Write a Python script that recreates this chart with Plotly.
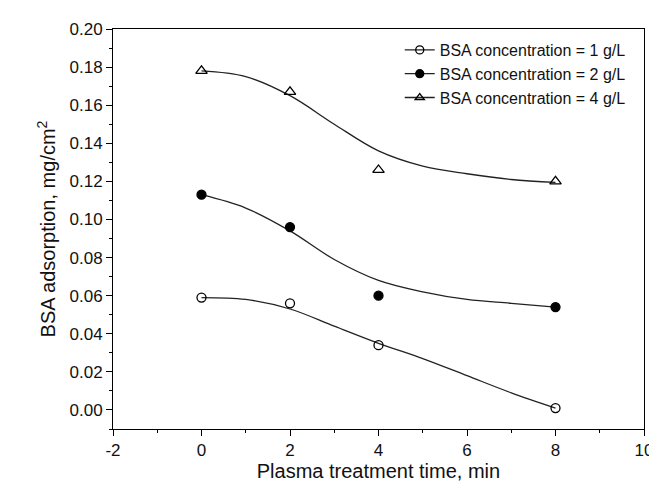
import plotly.graph_objects as go

# measured points
time_pts = [0, 2, 4, 8]
bsa_1 = [0.059, 0.056, 0.034, 0.001]
bsa_2 = [0.113, 0.096, 0.060, 0.054]
bsa_4 = [0.178, 0.167, 0.126, 0.120]

# fitted curves
fit_time = [0, 1, 2, 3, 4, 5, 6, 7, 8]
fit_1 = [0.059, 0.058, 0.053, 0.044, 0.035, 0.027, 0.018, 0.009, 0.001]
fit_2 = [0.113, 0.106, 0.094, 0.079, 0.068, 0.062, 0.058, 0.056, 0.054]
fit_4 = [0.178, 0.175, 0.165, 0.150, 0.136, 0.128, 0.124, 0.121, 0.1195]

x_ticks = [-2, 0, 2, 4, 6, 8, 10]
x_ticklabels = ["-2", "0", "2", "4", "6", "8", "10"]
y_ticks = [0, 0.02, 0.04, 0.06, 0.08, 0.10, 0.12, 0.14, 0.16, 0.18, 0.20]

names = ["BSA concentration = 1 g/L", "BSA concentration = 2 g/L", "BSA concentration = 4 g/L"]
symbols = ["circle-open", "circle", "triangle-up-open"]

FONT = "Liberation Sans, Arial, sans-serif"
LC = "#222222"

fig = go.Figure()
for pts, fit, name, sym in zip([bsa_1, bsa_2, bsa_4], [fit_1, fit_2, fit_4], names, symbols):
    fig.add_trace(go.Scatter(x=fit_time, y=fit, mode="lines", line=dict(color=LC, width=1.3, shape="spline"),
                             showlegend=False, hoverinfo="skip"))
    fig.add_trace(go.Scatter(x=time_pts, y=pts, mode="markers",
                             marker=dict(symbol=sym, size=9 if sym != "triangle-up-open" else 10,
                                         color="black", line=dict(color="black", width=1.3)),
                             showlegend=False))
    fig.add_trace(go.Scatter(x=[None], y=[None], mode="lines+markers", name=name,
                             line=dict(color=LC, width=1.3),
                             marker=dict(symbol=sym, size=8, color="black", line=dict(color="black", width=1.3))))

fig.update_layout(
    width=657, height=482,
    margin=dict(l=105, r=12, t=21, b=60),
    plot_bgcolor="white", paper_bgcolor="white",
    font=dict(family=FONT, size=17, color="#111111"),
    legend=dict(x=0.54, y=0.99, xanchor="left", yanchor="top", bgcolor="rgba(0,0,0,0)",
                font=dict(size=16), tracegroupgap=0, itemwidth=30),
    xaxis=dict(range=[-2, 10], tickmode="array", tickvals=x_ticks, ticktext=x_ticklabels,
               ticks="outside", ticklen=6, tickwidth=1, tickcolor="black",
               showline=True, linecolor="black", linewidth=1, mirror=True, showgrid=False, zeroline=False,
               minor=dict(dtick=1, ticks="outside", ticklen=3, tickcolor="black"),
               title=dict(text="Plasma treatment time, min", font=dict(size=20), standoff=4)),
    yaxis=dict(range=[-0.01, 0.20], tickmode="array", tickvals=y_ticks,
               tickformat=".2f",
               ticks="outside", ticklen=6, tickwidth=1, tickcolor="black",
               showline=True, linecolor="black", linewidth=1, mirror=True, showgrid=False, zeroline=False,
               minor=dict(dtick=0.01, tick0=0, ticks="outside", ticklen=3, tickcolor="black"),
               title=dict(text="BSA adsorption, mg/cm<sup>2</sup>", font=dict(size=20), standoff=8)),
)

fig.write_html("out.html")
